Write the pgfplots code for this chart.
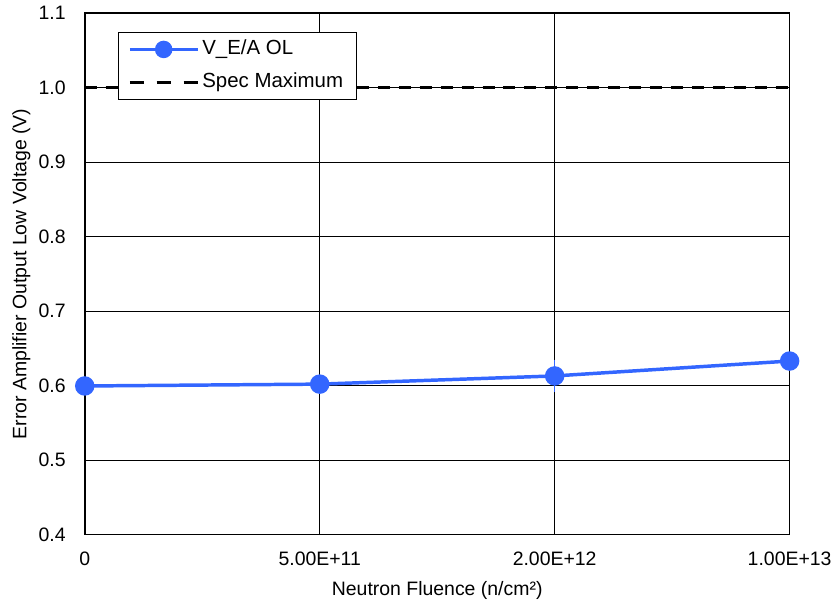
\documentclass[border=0pt]{standalone}
\usepackage{pgfplots}
\pgfplotsset{compat=1.18}
\usepackage{fontspec}
\setmainfont{Liberation Sans}
\definecolor{myblue}{RGB}{51,102,255}
\begin{document}
\fontsize{19.5bp}{23bp}\selectfont
\begin{tikzpicture}[x=1bp,y=1bp]
\begin{axis}[
  scale only axis,
  width=707bp, height=523bp,
  xmin=0, xmax=3, ymin=0.4, ymax=1.1,
  xtick={0,1,2,3},
  xticklabels={\textnormal{0},\textnormal{5.00E+11},\textnormal{2.00E+12},\textnormal{1.00E+13}},
  ytick={0.4,0.5,0.6,0.7,0.8,0.9,1.0,1.1},
  yticklabel style={/pgf/number format/fixed, /pgf/number format/fixed zerofill, /pgf/number format/precision=1, xshift=-12.5bp},
  /pgf/number format/assume math mode=true,
  grid=major,
  major grid style={black, line width=0.8pt},
  axis line style={black, line width=1.6pt},
  tick style={draw=none},
  xticklabel style={yshift=-10.5bp},
  xlabel={Neutron Fluence (n/cm²)},
  ylabel={Error Amplifier Output Low Voltage (V)},
  xlabel style={yshift=-3bp},
  ylabel style={yshift=-5bp},
  legend style={at={(0.0467,0.9637)}, anchor=north west, draw=black, line width=0.8pt,
    font=\fontsize{20.5bp}{24bp}\selectfont, row sep=9bp, inner xsep=10bp, inner ysep=5bp,
    nodes={text height=14bp, text depth=4bp, inner sep=3bp}},
  legend cell align=left,
  clip=false,
]
\addplot[myblue, line width=3.5pt, mark=*, mark size=8bp,
  legend image code/.code={\draw[myblue, line width=3.5pt] (0bp,0bp) -- (68bp,0bp);
     \fill[myblue] (34bp,0bp) circle[radius=7bp];},
  error bars/.cd, y dir=both, y explicit, error bar style={myblue, line width=1pt}, error mark options={myblue, mark size=6bp, line width=1.6pt}]
  coordinates {(0,0.5995) (1,0.602) (2,0.613) +- (0,0.014) (3,0.633)};
\addlegendentry{V\_E/A OL}
\addplot[black, line width=3pt, dash pattern=on 12bp off 9bp,
  legend image code/.code={\draw[black, line width=3pt, dash pattern=on 14bp off 13bp] (0bp,0bp) -- (68bp,0bp);}]
  coordinates {(0,1.0) (3,1.0)};
\addlegendentry{Spec Maximum}
\path (rel axis cs:0,0) ++(-85bp,-72bp) rectangle ++(838bp,607bp);
\end{axis}
\end{tikzpicture}
\end{document}
